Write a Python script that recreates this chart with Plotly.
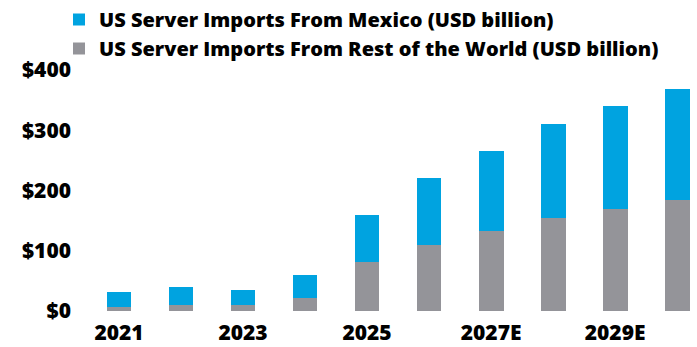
import plotly.graph_objects as go

categories = ["2021", "2022", "2023", "2024", "2025", "2026", "2027E", "2028E", "2029E", "2030E"]
rest_of_world = [6, 10, 10, 21, 81, 109, 132, 154, 169, 184]
mexico_total = [31, 40, 35, 60, 160, 220, 266, 310, 340, 369]
mexico = [t - r for t, r in zip(mexico_total, rest_of_world)]
tick_cats = ["2021", "2023", "2025", "2027E", "2029E"]
y_ticks = [0, 100, 200, 300, 400]
y_ticktext = ["$0", "$100", "$200", "$300", "$400"]

BLUE = "#00A3E0"
GRAY = "#949499"
FONT = "Open Sans"

fig = go.Figure()
fig.add_trace(go.Bar(x=categories, y=rest_of_world, marker=dict(color=GRAY, line=dict(width=0)),
                     name="US Server Imports From Rest of the World (USD billion)"))
fig.add_trace(go.Bar(x=categories, y=mexico, marker=dict(color=BLUE, line=dict(width=0)),
                     name="US Server Imports From Mexico (USD billion)"))

fig.update_layout(
    width=697, height=347,
    barmode="stack", bargap=0.6,
    paper_bgcolor="white", plot_bgcolor="white",
    margin=dict(l=88, r=0, t=70, b=36, autoexpand=False),
    font=dict(family=FONT, color="black", size=20),
    legend=dict(
        traceorder="reversed",
        orientation="v",
        xref="container", yref="container",
        x=59 / 697, y=1.01, xanchor="left", yanchor="top",
        font=dict(family=FONT, size=20, color="black", weight=800),
        itemwidth=30, bgcolor="rgba(0,0,0,0)",
    ),
    xaxis=dict(
        type="category", range=[-0.5, 9.32],
        tickmode="array", tickvals=tick_cats, ticktext=tick_cats,
        showgrid=False, showline=False, zeroline=False, ticks="",
        ticklabelstandoff=7,
        tickfont=dict(family=FONT, size=21, color="black", weight=800),
    ),
    yaxis=dict(
        range=[0, 400], tickmode="array", tickvals=y_ticks, ticktext=y_ticktext,
        showgrid=False, showline=False, zeroline=False, ticks="",
        ticklabelstandoff=16,
        tickfont=dict(family=FONT, size=21, color="black", weight=800),
    ),
)

fig.write_html("out.html")
